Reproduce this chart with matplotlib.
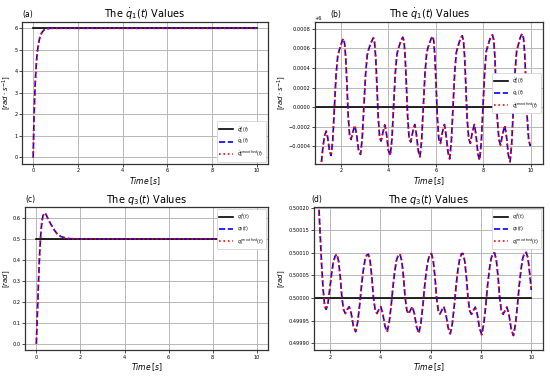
import matplotlib
matplotlib.use("Agg")
import matplotlib.pyplot as plt

# ---------------- data ----------------
# (a) joint-1 velocity, full run
t_a = [0.0, 0.03, 0.06, 0.09, 0.12, 0.15, 0.18, 0.22, 0.26, 0.30, 0.35, 0.40,
       0.45, 0.50, 0.60, 0.70, 0.80, 1.0, 2.0, 4.0, 6.0, 8.0, 10.0]
qd1_a = [0.0, 1.5, 2.6, 3.4, 4.0, 4.5, 4.85, 5.15, 5.4, 5.58, 5.72, 5.82,
         5.88, 5.93, 5.97, 5.99, 6.0, 6.0, 6.0, 6.0, 6.0, 6.0, 6.0]
t_ref = [0.0, 2.0, 4.0, 6.0, 8.0, 10.0]
qd1_ref = [6.0, 6.0, 6.0, 6.0, 6.0, 6.0]

# (b) joint-1 velocity, zoom (deviation from 6, in 1e-4 rad/s)
t_b = [1.15, 1.25, 1.32, 1.385, 1.45, 1.52, 1.59, 1.66, 1.73, 1.80, 1.87, 1.93, 2.00, 2.06, 2.11,
       2.16, 2.21, 2.26, 2.31, 2.37, 2.43, 2.51, 2.59, 2.66, 2.74, 2.83, 2.90, 2.97, 3.04, 3.11, 3.17, 3.24, 3.31, 3.37,
       3.42, 3.47, 3.52, 3.57, 3.63, 3.69, 3.77, 3.85, 3.92, 4.00, 4.08, 4.15, 4.22, 4.29, 4.36, 4.42, 4.49, 4.55, 4.61,
       4.66, 4.71, 4.76, 4.81, 4.87, 4.94, 5.02, 5.11, 5.18, 5.26, 5.33, 5.40, 5.47, 5.54, 5.61, 5.67, 5.74, 5.80, 5.86,
       5.91, 5.96, 6.01, 6.06, 6.12, 6.19, 6.27, 6.36, 6.43, 6.51, 6.58, 6.65, 6.72, 6.79, 6.86, 6.92, 6.99, 7.05, 7.11,
       7.16, 7.21, 7.26, 7.31, 7.38, 7.45, 7.53, 7.62, 7.69, 7.77, 7.84, 7.91, 7.98, 8.05, 8.12, 8.18, 8.25, 8.32, 8.38,
       8.43, 8.48, 8.53, 8.58, 8.65, 8.72, 8.81, 8.90, 8.97, 9.05, 9.12, 9.19, 9.26, 9.33, 9.40, 9.46, 9.52, 9.58, 9.64,
       9.69, 9.74, 9.79, 9.84, 9.90, 9.96, 10.0]
dev_b = [-6.5, -4.0, -2.9, -2.45, -3.1, -4.4, -4.94, -3.4, 0.0, 3.3, 5.2, 5.8, 6.3, 6.8, 7.0,
         6.5, 4.9, 2.2, -0.9, -2.9, -3.3, -2.5, -1.87, -2.7, -4.3, -4.83, -3.2, 0.0, 3.3, 5.3, 5.9, 6.4, 6.8, 7.08,
         6.6, 5.0, 2.2, -0.9, -3.0, -3.47, -2.6, -1.8, -2.7, -4.4, -4.94, -3.3, 0.0, 3.4, 5.4, 6.0, 6.5, 6.9, 7.15,
         6.7, 5.0, 2.2, -0.9, -3.1, -3.57, -2.6, -1.77, -2.8, -4.5, -5.07, -3.4, 0.0, 3.4, 5.5, 6.1, 6.6, 7.0, 7.25,
         6.8, 5.1, 2.2, -1.0, -3.2, -3.7, -2.6, -1.77, -2.9, -4.6, -5.28, -3.5, 0.0, 3.5, 5.6, 6.1, 6.7, 7.1, 7.3,
         6.8, 5.1, 2.2, -1.0, -3.2, -3.7, -2.6, -1.77, -2.9, -4.8, -5.41, -3.6, 0.0, 3.5, 5.7, 6.2, 6.8, 7.2, 7.38,
         6.9, 5.2, 2.2, -1.0, -3.3, -3.88, -2.7, -1.87, -3.0, -4.9, -5.58, -3.7, 0.0, 3.6, 5.8, 6.3, 6.9, 7.3, 7.5,
         7.0, 5.3, 2.3, -1.0, -3.2, -3.9, -3.9]

# (c) joint-3 position, full run
t_c = [0.0, 0.05, 0.10, 0.15, 0.20, 0.25, 0.30, 0.38, 0.45, 0.55, 0.65, 0.75,
       0.85, 0.95, 1.10, 1.30, 1.50, 2.0, 4.0, 6.0, 8.0, 10.0]
q3_c = [0.0, 0.15, 0.30, 0.43, 0.52, 0.58, 0.61, 0.624, 0.615, 0.59, 0.572, 0.553,
        0.537, 0.524, 0.512, 0.505, 0.501, 0.5, 0.5, 0.5, 0.5, 0.5]
q3_ref = [0.5, 0.5, 0.5, 0.5, 0.5, 0.5]

# (d) joint-3 position, zoom (deviation from 0.5, in 1e-5 rad)
t_d = [1.54, 1.60, 1.66, 1.72, 1.78, 1.84, 1.91, 1.98, 2.06, 2.13, 2.20, 2.265,
       2.335, 2.405, 2.465, 2.535, 2.605, 2.685, 2.755, 2.835, 2.925, 3.015, 3.095, 3.175, 3.245, 3.315, 3.385, 3.455, 3.52,
       3.59, 3.66, 3.72, 3.79, 3.86, 3.94, 4.01, 4.09, 4.18, 4.27, 4.35, 4.43, 4.50, 4.57, 4.64, 4.71, 4.78,
       4.85, 4.92, 4.98, 5.05, 5.12, 5.20, 5.27, 5.35, 5.44, 5.53, 5.61, 5.69, 5.76, 5.83, 5.90, 5.97, 6.03,
       6.10, 6.17, 6.23, 6.30, 6.37, 6.45, 6.52, 6.60, 6.69, 6.78, 6.86, 6.94, 7.01, 7.08, 7.15, 7.22, 7.28,
       7.35, 7.42, 7.48, 7.55, 7.62, 7.70, 7.77, 7.85, 7.94, 8.03, 8.11, 8.19, 8.26, 8.33, 8.40, 8.47, 8.54,
       8.61, 8.68, 8.74, 8.81, 8.88, 8.96, 9.03, 9.11, 9.20, 9.29, 9.37, 9.45, 9.52, 9.59, 9.66, 9.73, 9.80,
       9.87, 9.94, 10.0]
dev_d = [21.5, 14.5, 7.5, 2.0, -1.6, -2.5, -1.2, 1.8, 5.5, 8.0, 9.3, 9.7,
         8.2, 4.5, 0.3, -2.6, -3.4, -2.5, -1.9, -3.3, -6.2, -7.45, -5.3, -1.5, 2.6, 6.0, 8.4, 9.5, 9.7,
         8.2, 4.5, 0.3, -2.6, -3.4, -2.5, -1.9, -3.3, -6.2, -7.45, -5.3, -1.5, 2.6, 6.0, 8.4, 9.5, 9.7,
         8.2, 4.5, 0.3, -2.7, -3.5, -2.6, -1.9, -3.4, -6.4, -7.8, -5.5, -1.5, 2.7, 6.1, 8.5, 9.7, 9.85,
         8.3, 4.6, 0.3, -2.7, -3.5, -2.6, -1.9, -3.4, -6.5, -7.9, -5.6, -1.5, 2.7, 6.2, 8.6, 9.8, 9.9,
         8.3, 4.6, 0.3, -2.8, -3.6, -2.7, -2.0, -3.5, -6.6, -8.1, -5.7, -1.6, 2.7, 6.2, 8.7, 9.9, 10.0,
         8.4, 4.6, 0.3, -2.8, -3.6, -2.7, -2.0, -3.6, -6.8, -8.3, -5.8, -1.6, 2.8, 6.3, 8.8, 10.0, 10.1,
         8.8, 5.3, 1.8]

labels_a = [r'$\dot{q}_1^d(t)$', r'$\dot{q}_1(t)$', r'$\dot{q}_1^{smoothed}(t)$']
labels_c = [r'$q_3^d(t)$', r'$q_3(t)$', r'$q_3^{smoothed}(t)$']

# ---------------- figure ----------------
plt.rcParams['font.family'] = ['DejaVu Sans']
plt.rcParams['mathtext.fontset'] = 'dejavusans'
fig = plt.figure(figsize=(5.5, 3.76), dpi=100)

pos = {
    'a': [0.040, 0.564, 0.447, 0.378],
    'b': [0.573, 0.564, 0.414, 0.378],
    'c': [0.046, 0.069, 0.441, 0.381],
    'd': [0.571, 0.069, 0.416, 0.381],
}
axes = {k: fig.add_axes(v) for k, v in pos.items()}

def style(ax, title, ylabel, legloc):
    ax.grid(True, color='#b8b8b8', linewidth=0.7)
    ax.set_axisbelow(True)
    ax.tick_params(labelsize=3.6, length=2, width=0.5, pad=1.2)
    for s in ax.spines.values():
        s.set_linewidth(0.9)
        s.set_color('#333333')
    ax.set_title(title, fontsize=7, pad=3)
    ax.set_xlabel(r'$Time\,[s]$', fontsize=5.5, labelpad=1)
    ax.set_ylabel(ylabel, fontsize=5.0, labelpad=0.8)
    leg = ax.legend(loc=legloc, fontsize=3.3, handlelength=3, framealpha=1,
                    borderpad=0.5, labelspacing=0.5)
    leg.get_frame().set_linewidth(0.5)

lw = 1.2
t_full = [0.0, 2.0, 4.0, 6.0, 8.0, 10.0]

# (a)
ax = axes['a']
ax.plot(t_ref, qd1_ref, color='k', lw=1.2, label=labels_a[0])
ax.plot(t_a, qd1_a, color='b', ls='--', lw=lw, label=labels_a[1])
ax.plot(t_a, qd1_a, color='r', ls=':', lw=lw, label=labels_a[2])
ax.set_xlim(-0.5, 10.5)
ax.set_ylim(-0.3, 6.3)
style(ax, r'The $\dot{q}_1(t)$ Values', r'$[rad\cdot s^{-1}]$', 'lower right')
ax.text(0.0, 1.02, '(a)', transform=ax.transAxes, fontsize=5.5, va='bottom')

# (b)
ax = axes['b']
yb = [6.0 + v * 1e-4 for v in dev_b]
ax.plot(t_full, qd1_ref, color='k', lw=1.2, label=labels_a[0])
ax.plot(t_b, yb, color='b', ls='--', lw=lw, label=labels_a[1])
ax.plot(t_b, yb, color='r', ls=':', lw=lw, label=labels_a[2])
ax.set_xlim(0.92, 10.5)
ax.set_ylim(6 - 0.00058, 6 + 0.000872)
ax.set_xticks([2, 4, 6, 8, 10])
ax.set_yticks([6 - 0.0004, 6 - 0.0002, 6.0, 6.0002, 6.0004, 6.0006, 6.0008])
ax.set_yticklabels(['\u22120.0004', '\u22120.0002', '0.0000', '0.0002', '0.0004', '0.0006', '0.0008'])
style(ax, r'The $\dot{q}_1(t)$ Values', r'$[rad\cdot s^{-1}]$', 'center right')
ax.text(-0.005, 1.005, '+6', transform=ax.transAxes, fontsize=3.6, va='bottom')
ax.text(0.065, 1.02, '(b)', transform=ax.transAxes, fontsize=5.5, va='bottom')

# (c)
ax = axes['c']
ax.plot(t_ref, q3_ref, color='k', lw=1.2, label=labels_c[0])
ax.plot(t_c, q3_c, color='b', ls='--', lw=lw, label=labels_c[1])
ax.plot(t_c, q3_c, color='r', ls=':', lw=lw, label=labels_c[2])
ax.set_xlim(-0.5, 10.5)
ax.set_ylim(-0.03, 0.653)
style(ax, r'The $q_3(t)$ Values', r'$[rad]$', 'upper right')
ax.text(0.0, 1.02, '(c)', transform=ax.transAxes, fontsize=5.5, va='bottom')

# (d)
ax = axes['d']
yd = [0.5 + v * 1e-5 for v in dev_d]
ax.plot(t_full, q3_ref, color='k', lw=1.2, label=labels_c[0])
ax.plot(t_d, yd, color='b', ls='--', lw=lw, label=labels_c[1])
ax.plot(t_d, yd, color='r', ls=':', lw=lw, label=labels_c[2])
ax.set_xlim(1.36, 10.46)
ax.set_ylim(0.499885, 0.500202)
ax.set_xticks([2, 4, 6, 8, 10])
ax.set_yticks([0.4999, 0.49995, 0.5, 0.50005, 0.5001, 0.50015, 0.5002])
ax.set_yticklabels(['0.49990', '0.49995', '0.50000', '0.50005', '0.50010', '0.50015', '0.50020'])
style(ax, r'The $q_3(t)$ Values', r'$[rad]$', 'upper right')
ax.text(-0.01, 1.02, '(d)', transform=ax.transAxes, fontsize=5.5, va='bottom')

fig.savefig('out.png', dpi=100)
